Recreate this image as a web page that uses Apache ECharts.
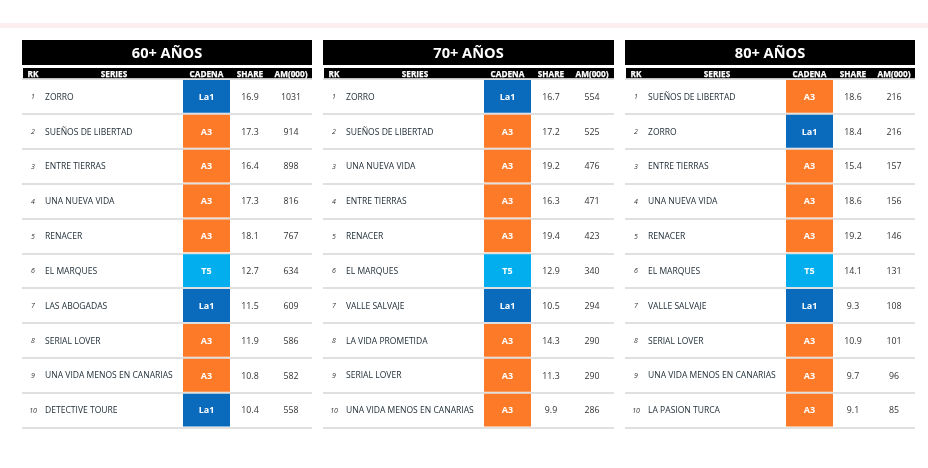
<!DOCTYPE html>
<html><head><meta charset="utf-8">
<style>html,body{margin:0;padding:0;background:#fff}#c{width:928px;height:468px}</style>
<script src="https://cdn.jsdelivr.net/npm/echarts@6/dist/echarts.min.js"></script>
</head><body><div id="c"></div>
<script>
const ranks = ['1','2','3','4','5','6','7','8','9','10'];
const headers = ['RK','SERIES','CADENA','SHARE','AM(000)'];
const titles = ['60+ AÑOS','70+ AÑOS','80+ AÑOS'];

const series60 = ['ZORRO','SUEÑOS DE LIBERTAD','ENTRE TIERRAS','UNA NUEVA VIDA','RENACER','EL MARQUES','LAS ABOGADAS','SERIAL LOVER','UNA VIDA MENOS EN CANARIAS','DETECTIVE TOURE'];
const cadena60 = ['La1','A3','A3','A3','A3','T5','La1','A3','A3','La1'];
const share60 = [16.9,17.3,16.4,17.3,18.1,12.7,11.5,11.9,10.8,10.4];
const am60 = [1031,914,898,816,767,634,609,586,582,558];

const series70 = ['ZORRO','SUEÑOS DE LIBERTAD','UNA NUEVA VIDA','ENTRE TIERRAS','RENACER','EL MARQUES','VALLE SALVAJE','LA VIDA PROMETIDA','SERIAL LOVER','UNA VIDA MENOS EN CANARIAS'];
const cadena70 = ['La1','A3','A3','A3','A3','T5','La1','A3','A3','A3'];
const share70 = [16.7,17.2,19.2,16.3,19.4,12.9,10.5,14.3,11.3,9.9];
const am70 = [554,525,476,471,423,340,294,290,290,286];

const series80 = ['SUEÑOS DE LIBERTAD','ZORRO','ENTRE TIERRAS','UNA NUEVA VIDA','RENACER','EL MARQUES','VALLE SALVAJE','SERIAL LOVER','UNA VIDA MENOS EN CANARIAS','LA PASION TURCA'];
const cadena80 = ['A3','La1','A3','A3','A3','T5','La1','A3','A3','A3'];
const share80 = [18.6,18.4,15.4,18.6,19.2,14.1,9.3,10.9,9.7,9.1];
const am80 = [216,216,157,156,146,131,108,101,96,85];

const tables = [
  {title:titles[0], names:series60, cadena:cadena60, share:share60, am:am60, left:22, width:290},
  {title:titles[1], names:series70, cadena:cadena70, share:share70, am:am70, left:323, width:291},
  {title:titles[2], names:series80, cadena:cadena80, share:share80, am:am80, left:625, width:290}
];
const FONT = '"Open Sans", sans-serif';
const colors = {La1:'#0a6bbd', A3:'#fd7a28', T5:'#03aeee'};
const col = {rk:11, name:23, cadL:161, cadR:208, share:228, am:269};
const headerCol = [11,92,184.5,228,269];
const gridTop = 79, gridH = 348.5;

const grids=[],xAxes=[],yAxes=[],seriesList=[];
const graphicEls=[{type:'rect',silent:true,shape:{x:0,y:23,width:928,height:5},style:{fill:'#fdeef2'}}];

tables.forEach((t,k)=>{
  grids.push({left:t.left,top:gridTop,width:t.width,height:gridH});
  xAxes.push({gridIndex:k,type:'value',min:0,max:t.width,show:false});
  yAxes.push({gridIndex:k,type:'category',inverse:true,data:ranks,
    axisLine:{show:false},axisTick:{show:false},axisLabel:{show:false},
    splitLine:{show:true,lineStyle:{color:'#d6d6d6',width:1.5}}});
  graphicEls.push({type:'rect',silent:true,shape:{x:t.left,y:40,width:t.width,height:25},style:{fill:'#000'}});
  graphicEls.push({type:'text',silent:true,style:{x:t.left+t.width/2,y:53.7,text:t.title,fill:'#fff',
    font:'700 14.6px '+FONT,textAlign:'center',textVerticalAlign:'middle'}});
  graphicEls.push({type:'rect',silent:true,shape:{x:t.left+1,y:68,width:t.width-1,height:10.5},style:{fill:'#000'}});
  headers.forEach((h,j)=>graphicEls.push({type:'text',silent:true,style:{x:t.left+headerCol[j],y:74.2,text:h,fill:'#fff',
    font:'700 8.2px '+FONT,textAlign:'center',textVerticalAlign:'middle',stroke:'#fff',lineWidth:0.25}}));
  seriesList.push({
    type:'custom',xAxisIndex:k,yAxisIndex:k,silent:true,clip:false,
    encode:{x:0,y:1},
    data:ranks.map((r,i)=>[0,i]),
    renderItem(params,api){
      const i=params.dataIndex;
      const band=api.size([0,1])[1];
      const cy=api.coord([0,i])[1];
      const X=v=>api.coord([v,i])[0];
      const c=t.cadena[i];
      const txt=(x,s,font,fill,align)=>({type:'text',style:{x:x,y:cy+0.8,text:s,font:font,fill:fill,
        textAlign:align||'center',textVerticalAlign:'middle'}});
      return {type:'group',children:[
        {type:'rect',shape:{x:X(col.cadL),y:cy-band/2+1,width:X(col.cadR)-X(col.cadL),height:band-2},style:{fill:colors[c]}},
        txt(X(col.rk),ranks[i],'italic 400 7px '+FONT,'#333'),
        txt(X(col.name),t.names[i],'400 8.55px '+FONT,'#22303a','left'),
        txt(X((col.cadL+col.cadR)/2),c,'700 9px '+FONT,'#fff'),
        txt(X(col.share),t.share[i].toFixed(1),'400 8.8px '+FONT,'#333'),
        txt(X(col.am),String(t.am[i]),'400 8.8px '+FONT,'#333')
      ]};
    }
  });
});

const chart=echarts.init(document.getElementById('c'));
chart.setOption({animation:false,backgroundColor:'#fff',grid:grids,xAxis:xAxes,yAxis:yAxes,series:seriesList,graphic:graphicEls});
</script></body></html>
